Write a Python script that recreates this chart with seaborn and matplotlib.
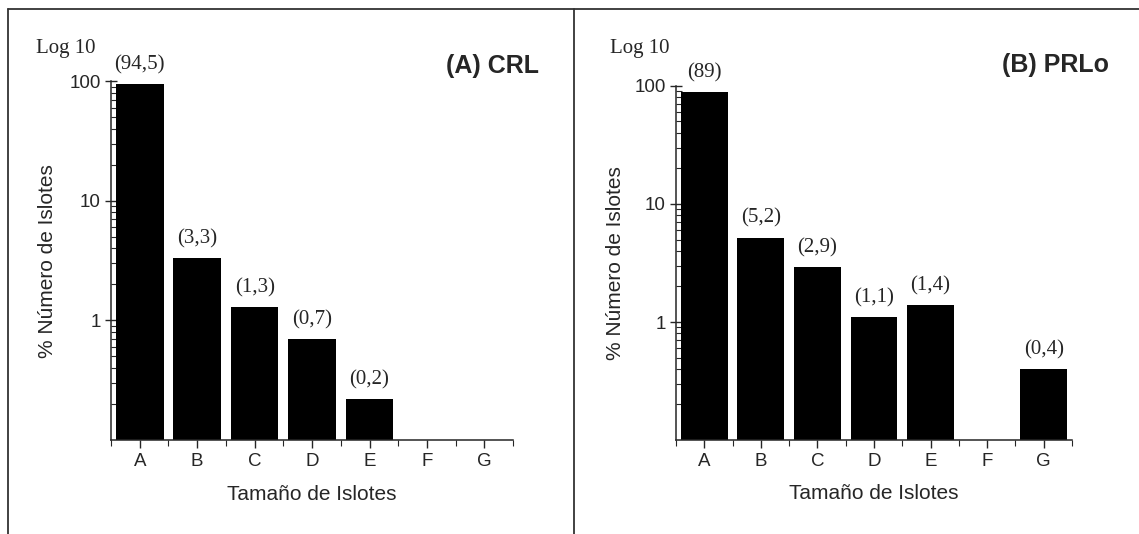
import numpy as np
import pandas as pd
import seaborn as sns
import matplotlib
matplotlib.use('Agg')
import matplotlib.pyplot as plt
from matplotlib.lines import Line2D
from matplotlib.ticker import FixedLocator, FuncFormatter, LogLocator, NullFormatter

# data (F/G empty in CRL, F empty in PRLo)
categories = ['A', 'B', 'C', 'D', 'E', 'F', 'G']
crl_values = [94.5, 3.3, 1.3, 0.7, 0.22, np.nan, np.nan]
crl_labels = ['(94,5)', '(3,3)', '(1,3)', '(0,7)', '(0,2)', None, None]
prlo_values = [89, 5.2, 2.9, 1.1, 1.4, np.nan, 0.4]
prlo_labels = ['(89)', '(5,2)', '(2,9)', '(1,1)', '(1,4)', None, '(0,4)']
titles = ['(A) CRL', '(B) PRLo']

sns.set_style('ticks')
plt.rcParams['font.family'] = ['Liberation Sans', 'DejaVu Sans']
serif = ['Liberation Serif', 'DejaVu Serif']

fig = plt.figure(figsize=(11.39, 5.34), dpi=100)
ax1 = fig.add_axes([0.0975, 0.176, 0.353, 0.672])
ax2 = fig.add_axes([0.5935, 0.176, 0.3477, 0.663])

panels = [(ax1, crl_values, crl_labels), (ax2, prlo_values, prlo_labels)]
for ax, vals, labs in panels:
    df = pd.DataFrame({'cat': categories, 'val': vals})
    sns.barplot(data=df, x='cat', y='val', order=categories, color='black',
                saturation=1, width=0.83, edgecolor='black', linewidth=0, ax=ax)
    ax.set_yscale('log')
    ax.set_ylim(0.1, 100)
    ax.set_xlim(-0.5, 6.5)
    ax.yaxis.set_major_locator(FixedLocator([1, 10, 100]))
    ax.yaxis.set_major_formatter(FuncFormatter(lambda v, p: '%g' % v))
    ax.yaxis.set_minor_locator(LogLocator(base=10, subs=np.arange(2, 10)))
    ax.yaxis.set_minor_formatter(NullFormatter())
    ax.xaxis.set_minor_locator(FixedLocator(np.arange(-0.5, 7, 1)))
    ax.tick_params(axis='y', which='major', direction='inout', length=8, width=1, labelsize=13.5)
    ax.tick_params(axis='y', which='minor', direction='in', length=4, width=0.8)
    ax.tick_params(axis='x', which='major', direction='out', length=6, width=1, labelsize=13.5)
    ax.tick_params(axis='x', which='minor', direction='out', length=4, width=0.8)
    sns.despine(ax=ax)
    for s in ['left', 'bottom']:
        ax.spines[s].set_linewidth(1.1)
    ax.set_xlabel('Tamaño de Islotes', fontsize=15)
    ax.set_ylabel('% Número de Islotes', fontsize=15)
    for i, (v, t) in enumerate(zip(vals, labs)):
        if t is not None:
            ax.annotate(t, (i, v), xytext=(0, 7), textcoords='offset points',
                        ha='center', va='bottom', fontsize=15, family=serif)

ax1.xaxis.set_label_coords(0.5, -0.125)
ax2.xaxis.set_label_coords(0.5, -0.125)
ax1.yaxis.set_label_coords(-0.135, 0.5)
ax2.yaxis.set_label_coords(-0.13, 0.5)

# panel texts
fig.text(36 / 1139, 1 - 48 / 534, 'Log 10', ha='left', va='center', fontsize=15, family=serif)
fig.text(610 / 1139, 1 - 49 / 534, 'Log 10', ha='left', va='center', fontsize=15, family=serif)
fig.text(493 / 1139, 1 - 66 / 534, titles[0], ha='center', va='center', fontsize=18, fontweight='bold')
fig.text(1055 / 1139, 1 - 65 / 534, titles[1], ha='center', va='center', fontsize=18, fontweight='bold')

# frame lines around the panels
fc = '#333333'
fig.add_artist(Line2D([8 / 1139, 1], [1 - 9 / 534] * 2, transform=fig.transFigure, color=fc, lw=1.3))
fig.add_artist(Line2D([8 / 1139] * 2, [0, 1 - 9 / 534], transform=fig.transFigure, color=fc, lw=1.3))
fig.add_artist(Line2D([574 / 1139] * 2, [0, 1 - 9 / 534], transform=fig.transFigure, color=fc, lw=1.3))

fig.savefig('out.png', dpi=100)
